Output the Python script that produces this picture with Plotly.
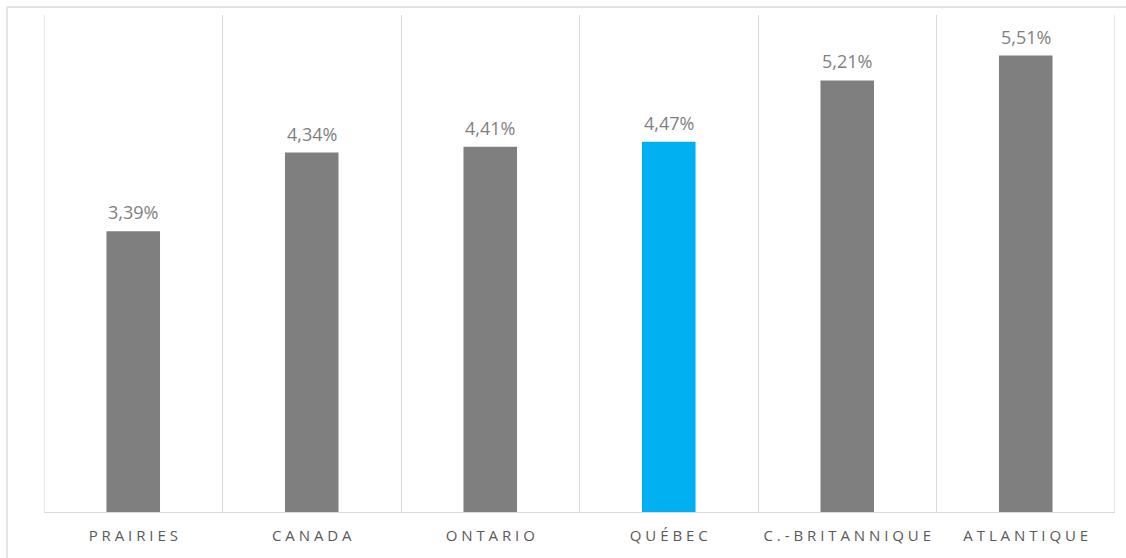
import plotly.graph_objects as go

categories = ["PRAIRIES", "CANADA", "ONTARIO", "QUÉBEC", "C.-BRITANNIQUE", "ATLANTIQUE"]
values = [3.39, 4.34, 4.41, 4.47, 5.21, 5.51]
highlight = "QUÉBEC"

GRAY = "#7f7f7f"
BLUE = "#00b0f0"
GRID = "#d9d9d9"
colors = [BLUE if c == highlight else GRAY for c in categories]
labels = [f"{v:.2f}".replace(".", ",") + "%" for v in values]
spaced = [" ".join(list(c)) for c in categories]

fig = go.Figure()
fig.add_trace(go.Bar(
    x=categories, y=values, marker=dict(color=colors, line=dict(width=0)),
    width=0.3, hoverinfo="skip",
))
for c, v, t in zip(categories, values, labels):
    fig.add_annotation(x=c, y=v, text=t, showarrow=False, yanchor="bottom",
                       yshift=5, font=dict(family="Open Sans", size=18, color=GRAY))

fig.update_layout(
    width=1126, height=558,
    margin=dict(l=44, r=11, t=15, b=46),
    paper_bgcolor="white", plot_bgcolor="white",
    showlegend=False,
    font=dict(family="Open Sans", color="#595959"),
)
n = len(categories)
fig.update_xaxes(
    type="category", tickmode="array", tickvals=categories, ticktext=spaced,
    tickson="boundaries", showgrid=True, gridcolor=GRID, gridwidth=1.3,
    showline=True, linecolor=GRID, linewidth=1.3, ticks="",
    tickfont=dict(family="Open Sans", size=15, color="#595959"),
    ticklabelstandoff=10, range=[-0.5, n - 0.5],
)
fig.update_yaxes(range=[0, 6], showgrid=False, zeroline=False, showticklabels=False, showline=False)

# edge category boundaries (plotly skips gridlines at the plot edges)
for xb in (-0.5, n - 0.5):
    fig.add_shape(type="line", xref="x", yref="paper", x0=xb, x1=xb, y0=0, y1=1,
                  line=dict(color=GRID, width=1.3), layer="below")

# outer chart frame (top and left edges)
fx = -37 / 1071
fy = 1 + 8 / 497
fig.add_shape(type="line", xref="paper", yref="paper", x0=fx, x1=1.02, y0=fy, y1=fy,
              line=dict(color=GRID, width=1.3))
fig.add_shape(type="line", xref="paper", yref="paper", x0=fx, x1=fx, y0=-0.1, y1=fy,
              line=dict(color=GRID, width=1.3))

fig.write_html("out.html", config={"displayModeBar": False},
               post_script="document.body.style.margin='0';")
